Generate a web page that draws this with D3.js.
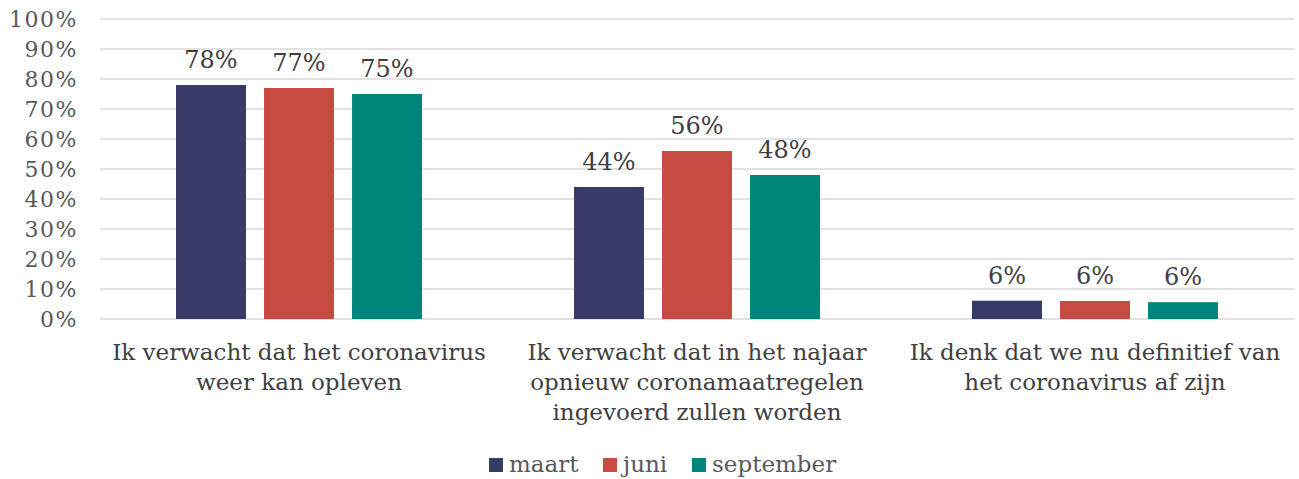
<!DOCTYPE html>
<html>
<head>
<meta charset="utf-8">
<script src="https://cdn.jsdelivr.net/npm/d3@7"></script>
<style>
  body { margin: 0; background: #fff; }
  text { font-family: "DejaVu Serif", serif; }
</style>
</head>
<body>
<div id="chart"></div>
<script>
var svgWidth = 1299;
var svgHeight = 479;

var margin = { top: 19, right: 5, bottom: 160, left: 100 };
var width = svgWidth - margin.left - margin.right;
var height = svgHeight - margin.top - margin.bottom;

// data
var categories = [
  ["Ik verwacht dat het coronavirus", "weer kan opleven"],
  ["Ik verwacht dat in het najaar", "opnieuw coronamaatregelen", "ingevoerd zullen worden"],
  ["Ik denk dat we nu definitief van", "het coronavirus af zijn"]
];
var seriesNames = ["maart", "juni", "september"];
var maart = [78, 44, 6.1];
var juni = [77, 56, 6.0];
var september = [75, 48, 5.6];
var yTicks = [0, 10, 20, 30, 40, 50, 60, 70, 80, 90, 100];
var colors = ["#383b65", "#c84b43", "#00857a"];

var series = [maart, juni, september];

var svg = d3.select("#chart")
  .append("svg")
  .attr("width", svgWidth)
  .attr("height", svgHeight);

var chartGroup = svg.append("g")
  .attr("transform", `translate(${margin.left}, ${margin.top})`);

var x0 = d3.scaleBand()
  .domain(d3.range(categories.length))
  .range([0, width]);

var x1 = d3.scaleBand()
  .domain(d3.range(seriesNames.length))
  .range([76, x0.bandwidth() - 76])
  .paddingInner(0.205);

var y = d3.scaleLinear()
  .domain([0, 100])
  .range([height, 0]);

// gridlines
chartGroup.append("g")
  .selectAll("line")
  .data(yTicks)
  .enter()
  .append("line")
  .attr("x1", 0)
  .attr("x2", width)
  .attr("y1", d => y(d))
  .attr("y2", d => y(d))
  .attr("stroke", "#d9d9d9")
  .attr("stroke-width", 1.5);

// y axis labels
var leftAxis = d3.axisLeft(y)
  .tickValues(yTicks)
  .tickFormat(d => d + "%")
  .tickSize(0)
  .tickPadding(22);

chartGroup.append("g")
  .call(leftAxis)
  .call(g => g.select(".domain").remove())
  .selectAll("text")
  .attr("fill", "#595959")
  .attr("font-size", "22px")
  .attr("letter-spacing", "1.5px")
  .attr("font-family", "DejaVu Serif, serif");

// bars
series.forEach(function(vals, si) {
  var g = chartGroup.append("g");
  g.selectAll("rect")
    .data(vals)
    .enter()
    .append("rect")
    .attr("x", (d, i) => x0(i) + x1(si))
    .attr("y", d => y(d))
    .attr("width", x1.bandwidth())
    .attr("height", d => height - y(d))
    .attr("fill", colors[si]);

  g.selectAll("text")
    .data(vals)
    .enter()
    .append("text")
    .attr("x", (d, i) => x0(i) + x1(si) + x1.bandwidth() / 2)
    .attr("y", d => y(d) - 17)
    .attr("text-anchor", "middle")
    .attr("fill", "#404040")
    .attr("font-size", "24px")
    .text(d => Math.round(d) + "%");
});

// category labels
var catGroup = chartGroup.append("g");
categories.forEach(function(lines, i) {
  var t = catGroup.append("text")
    .attr("x", x0(i) + x0.bandwidth() / 2)
    .attr("y", height + 41)
    .attr("text-anchor", "middle")
    .attr("fill", "#404040")
    .attr("font-size", "23px");
  lines.forEach(function(line, li) {
    t.append("tspan")
      .attr("x", x0(i) + x0.bandwidth() / 2)
      .attr("dy", li === 0 ? 0 : 30)
      .text(line);
  });
});

// legend
var legend = svg.append("g")
  .attr("transform", "translate(489, 465)");
var legendX = [0, 114, 203];
seriesNames.forEach(function(name, i) {
  legend.append("rect")
    .attr("x", legendX[i])
    .attr("y", -7)
    .attr("width", 14)
    .attr("height", 14)
    .attr("fill", colors[i]);
  legend.append("text")
    .attr("x", legendX[i] + 20)
    .attr("y", 7)
    .attr("fill", "#595959")
    .attr("font-size", "23px")
    .text(name);
});
</script>
</body>
</html>
